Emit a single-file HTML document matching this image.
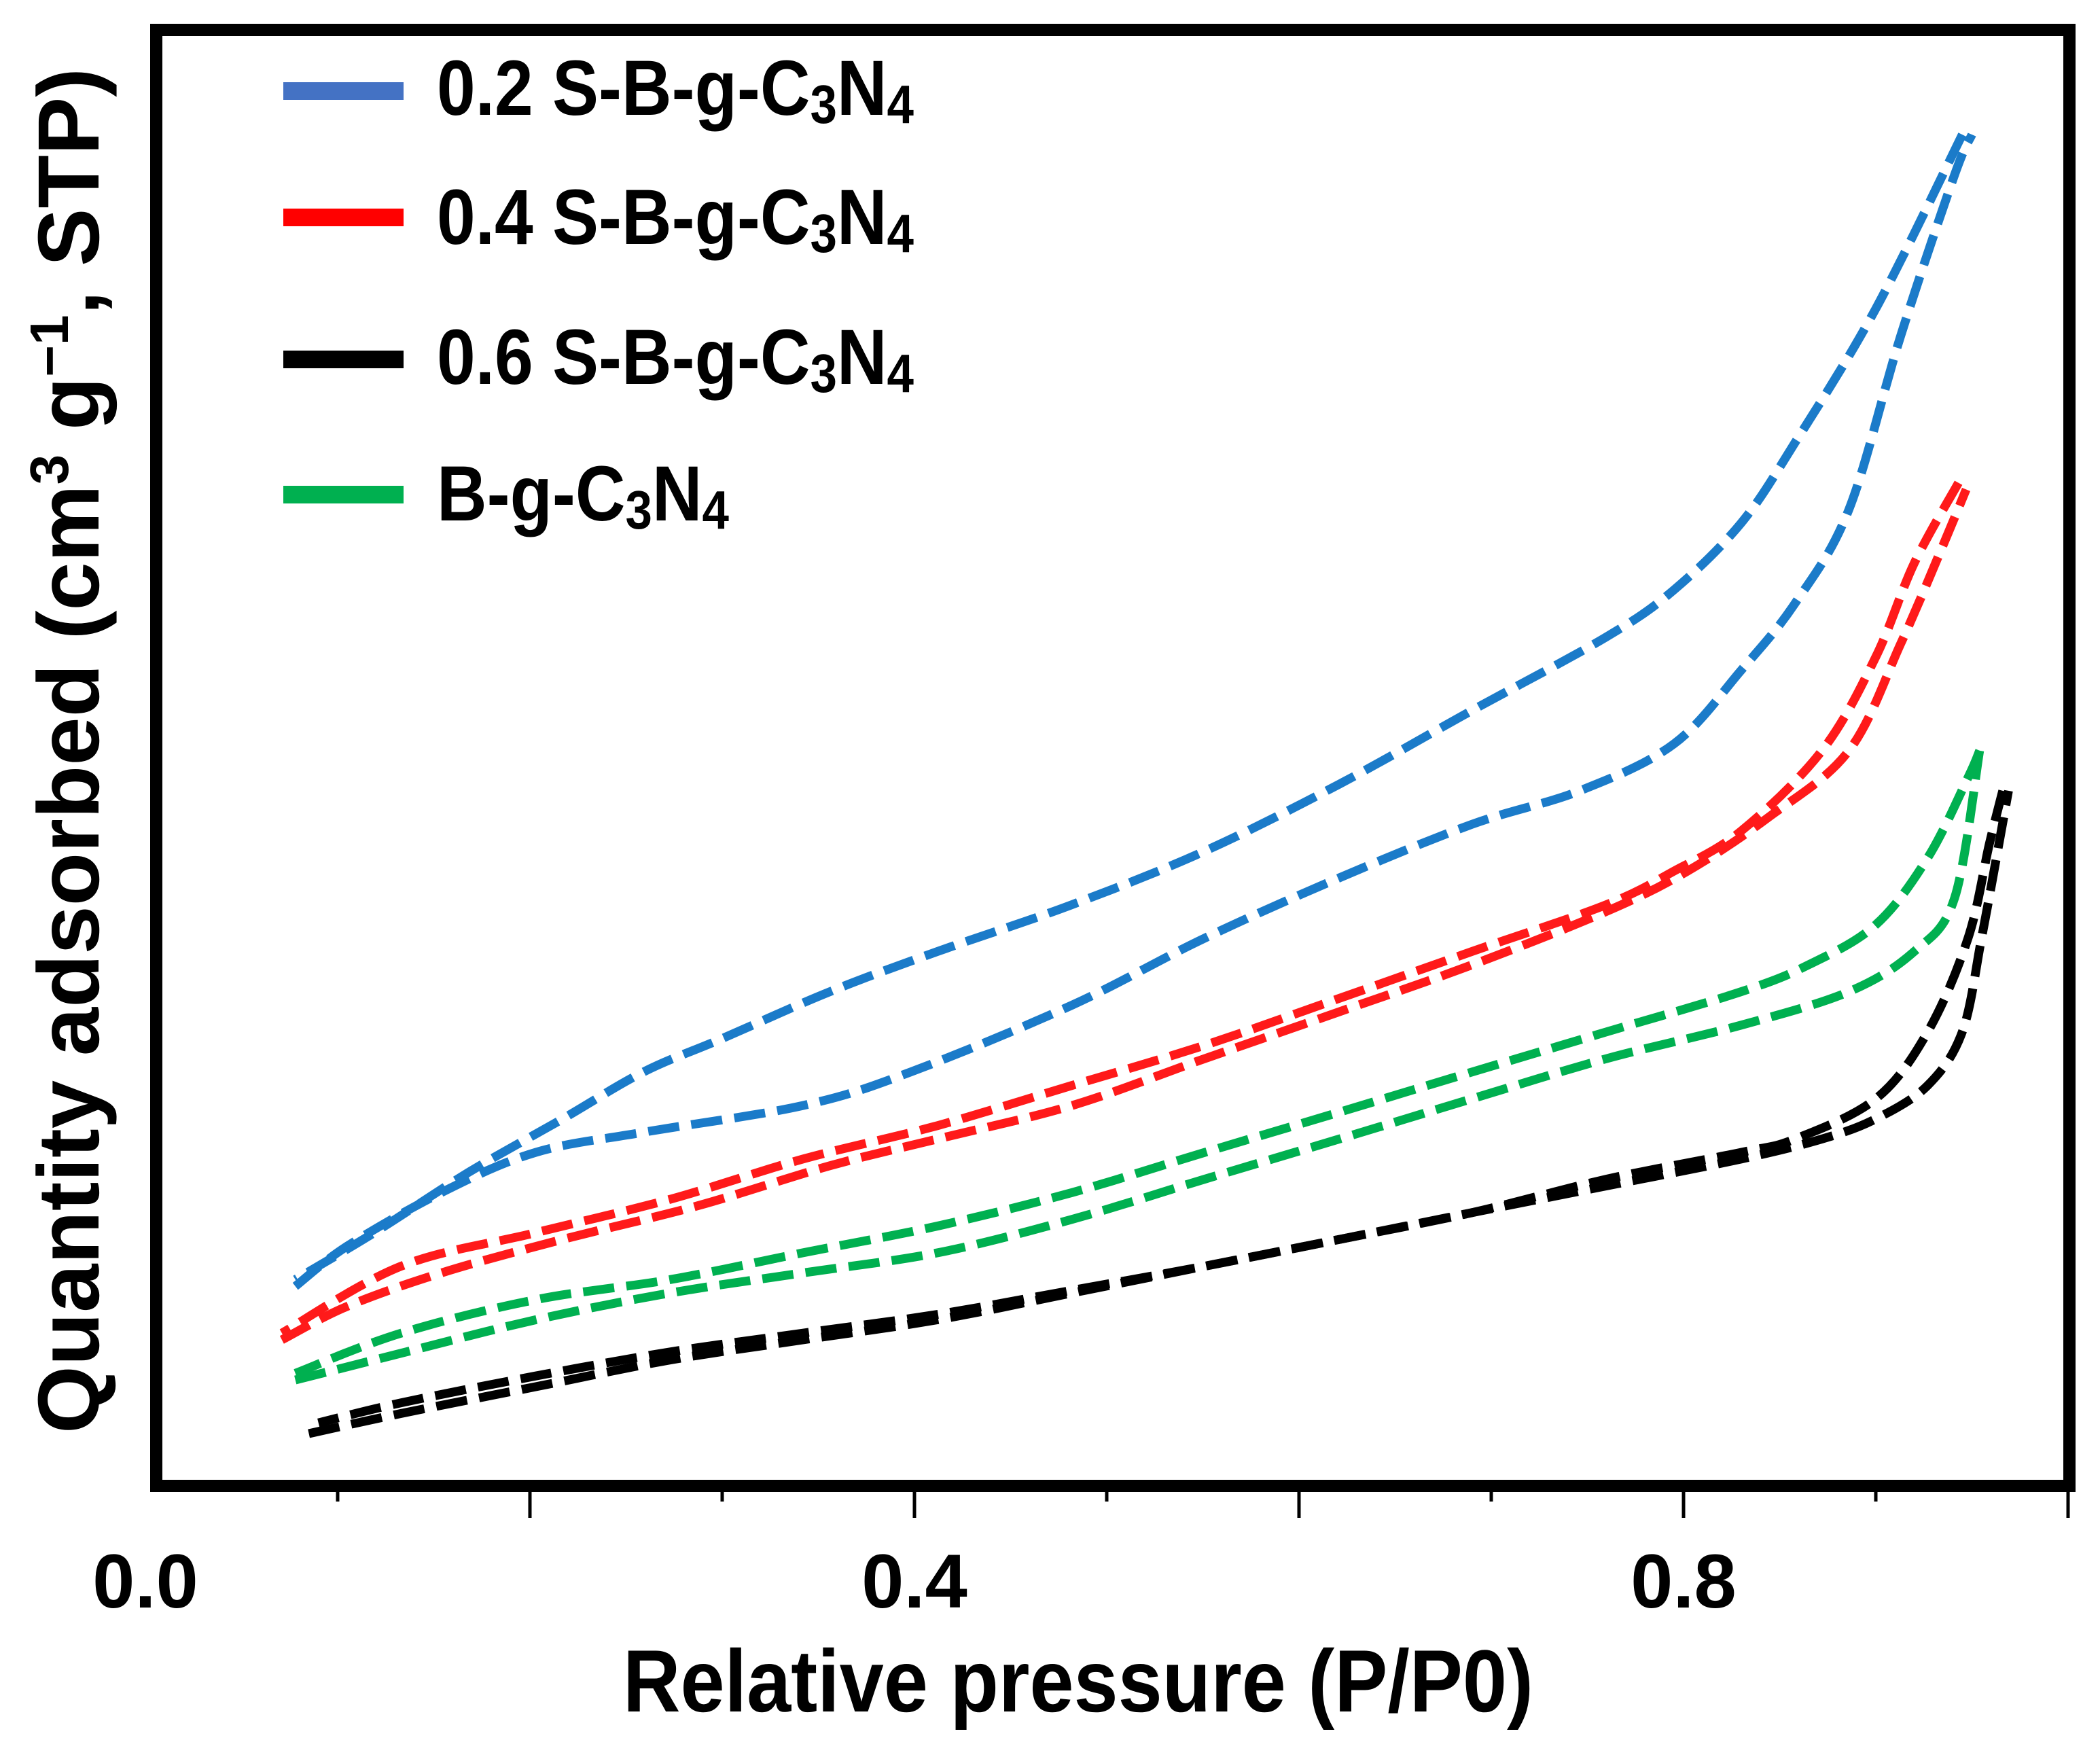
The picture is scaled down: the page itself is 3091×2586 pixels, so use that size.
<!DOCTYPE html>
<html><head><meta charset="utf-8"><style>html,body{margin:0;padding:0;background:#fff}svg{display:block}text{font-family:"Liberation Sans",Arial,sans-serif;font-weight:bold}</style></head>
<body>
<svg id="chart" width="3091" height="2586" viewBox="0 0 3091 2586" xmlns="http://www.w3.org/2000/svg">
<rect x="0" y="0" width="3091" height="2586" fill="#fff"/>
<g id="series"></g>
<rect x="230" y="44" width="2816" height="2143" fill="none" stroke="#000" stroke-width="18"/>
<g id="ticks"></g>
<text x="917" y="2519" font-size="130" textLength="1340" lengthAdjust="spacingAndGlyphs">Relative pressure (P/P0)</text>
<text transform="translate(145,2110) rotate(-90)" x="0" y="0" font-size="128" textLength="2010" lengthAdjust="spacingAndGlyphs">Quantity adsorbed (cm<tspan font-size="80" dy="-45">3</tspan><tspan dy="45"> g</tspan><tspan font-size="80" dy="-45">−1</tspan><tspan dy="45">, STP)</tspan></text>
<g>
 <line x1="417" y1="134" x2="594" y2="134" stroke="#4472c4" stroke-width="26"/>
 <text x="643" y="169" font-size="115" textLength="702" lengthAdjust="spacingAndGlyphs">0.2 S-B-g-C<tspan font-size="80" dy="12">3</tspan><tspan dy="-12">N</tspan><tspan font-size="80" dy="12">4</tspan></text>
 <line x1="417" y1="320" x2="594" y2="320" stroke="#ff0000" stroke-width="26"/>
 <text x="643" y="359" font-size="115" textLength="702" lengthAdjust="spacingAndGlyphs">0.4 S-B-g-C<tspan font-size="80" dy="12">3</tspan><tspan dy="-12">N</tspan><tspan font-size="80" dy="12">4</tspan></text>
 <line x1="417" y1="529" x2="594" y2="529" stroke="#000" stroke-width="26"/>
 <text x="643" y="565" font-size="115" textLength="702" lengthAdjust="spacingAndGlyphs">0.6 S-B-g-C<tspan font-size="80" dy="12">3</tspan><tspan dy="-12">N</tspan><tspan font-size="80" dy="12">4</tspan></text>
 <line x1="417" y1="728" x2="594" y2="728" stroke="#00b050" stroke-width="26"/>
 <text x="643" y="766" font-size="115" textLength="430" lengthAdjust="spacingAndGlyphs">B-g-C<tspan font-size="80" dy="12">3</tspan><tspan dy="-12">N</tspan><tspan font-size="80" dy="12">4</tspan></text>
</g>
</svg>
<script>
const majorTicks=[0.2,0.4,0.6,0.8,1.0];
const minorTicks=[0.1,0.3,0.5,0.7,0.9];
const tickLabels=["0.0","0.4","0.8"];
const tickLabelValues=[0.0,0.4,0.8];
const blueAdsX=[0.078,0.105,0.154,0.203,0.259,0.342,0.398,0.482,0.551,0.621,0.690,0.746,0.795,0.830,0.858,0.886,0.913,0.941,0.950];
const blueAdsY=[144,174,214,244,259,279,304,354,404,449,489,514,549,604,654,724,854,974,1004];
const blueDesX=[0.945,0.900,0.858,0.830,0.795,0.760,0.690,0.621,0.551,0.482,0.412,0.356,0.300,0.259,0.217,0.168,0.119,0.078];
const blueDesY=[1004,874,774,714,664,629,574,519,469,429,394,364,329,304,269,229,184,149];
const redAdsX=[0.071,0.105,0.154,0.217,0.287,0.356,0.412,0.482,0.551,0.621,0.690,0.760,0.802,0.844,0.886,0.913,0.934,0.947];
const redAdsY=[104,129,154,179,204,234,254,279,314,349,384,424,454,494,544,624,694,739];
const redDesX=[0.943,0.920,0.900,0.872,0.830,0.795,0.760,0.690,0.621,0.551,0.482,0.412,0.342,0.273,0.203,0.133,0.071];
const redDesY=[744,684,614,544,484,454,429,394,359,324,294,264,239,209,184,159,109];
const greenAdsX=[0.078,0.133,0.203,0.273,0.342,0.412,0.482,0.551,0.621,0.690,0.760,0.830,0.886,0.920,0.941,0.954];
const greenAdsY=[74,94,119,139,154,169,194,224,254,284,314,339,364,394,434,544];
const greenDesX=[0.954,0.948,0.927,0.900,0.865,0.830,0.760,0.690,0.621,0.551,0.482,0.412,0.342,0.273,0.203,0.133,0.078];
const greenDesY=[544,524,464,414,384,364,334,304,274,244,214,189,169,149,134,109,79];
const blackAdsX=[0.085,0.133,0.203,0.273,0.342,0.412,0.482,0.551,0.621,0.690,0.760,0.830,0.872,0.900,0.927,0.945,0.955,0.964,0.969];
const blackAdsY=[34,49,69,89,104,119,139,159,179,199,219,239,254,269,294,334,404,474,514];
const blackDesX=[0.966,0.959,0.948,0.927,0.900,0.858,0.830,0.760,0.690,0.621,0.551,0.482,0.412,0.342,0.273,0.203,0.133,0.090];
const blackDesY=[514,474,404,334,284,254,244,224,199,179,159,141,123,109,95,77,57,42];

const X0=214,XS=2830;
function xs(p){return X0+p*XS;}
const Y0=2177,YK=1.971;
function ys(v){return Y0-v*YK;}
const NS="http://www.w3.org/2000/svg";
function pathD(X,Y){
  const pts=X.map((x,i)=>[xs(x),ys(Y[i])]);
  let d="M"+pts[0][0].toFixed(1)+","+pts[0][1].toFixed(1);
  for(let i=0;i<pts.length-1;i++){
    const p0=pts[Math.max(0,i-1)],p1=pts[i],p2=pts[i+1],p3=pts[Math.min(pts.length-1,i+2)];
    const c1=[p1[0]+(p2[0]-p0[0])/6,p1[1]+(p2[1]-p0[1])/6];
    const c2=[p2[0]-(p3[0]-p1[0])/6,p2[1]-(p3[1]-p1[1])/6];
    d+=" C"+c1[0].toFixed(1)+","+c1[1].toFixed(1)+" "+c2[0].toFixed(1)+","+c2[1].toFixed(1)+" "+p2[0].toFixed(1)+","+p2[1].toFixed(1);
  }
  return d;
}
const g=document.getElementById('series');
function addCurve(X,Y,color,name){
  const p=document.createElementNS(NS,'path');
  p.setAttribute('d',pathD(X,Y));
  p.setAttribute('fill','none');
  p.setAttribute('stroke',color);
  p.setAttribute('stroke-width','13');
  p.setAttribute('stroke-dasharray','46 18');
  p.setAttribute('stroke-linejoin','round');
  
  
  g.appendChild(p);
}
addCurve(blackAdsX,blackAdsY,'#000','curve-0.6-adsorption');
addCurve(blackDesX,blackDesY,'#000','curve-0.6-desorption');
addCurve(greenAdsX,greenAdsY,'#00b050','curve-bgcn-adsorption');
addCurve(greenDesX,greenDesY,'#00b050','curve-bgcn-desorption');
addCurve(redAdsX,redAdsY,'#ff1a1a','curve-0.4-adsorption');
addCurve(redDesX,redDesY,'#ff1a1a','curve-0.4-desorption');
addCurve(blueAdsX,blueAdsY,'#1b7bc9','curve-0.2-adsorption');
addCurve(blueDesX,blueDesY,'#1b7bc9','curve-0.2-desorption');

const tg=document.getElementById('ticks');
function tick(v,len,name){
  const l=document.createElementNS(NS,'line');
  l.setAttribute('x1',xs(v));l.setAttribute('x2',xs(v));
  l.setAttribute('y1',2196);l.setAttribute('y2',2196+len);
  l.setAttribute('stroke','#000');l.setAttribute('stroke-width','5');
  
  
  tg.appendChild(l);
}
majorTicks.forEach(v=>tick(v,38,'x-major-tick'));
minorTicks.forEach(v=>tick(v,14,'x-minor-tick'));
tickLabels.forEach((t,i)=>{
  const e=document.createElementNS(NS,'text');
  e.setAttribute('x',xs(tickLabelValues[i]));
  e.setAttribute('y',2366);
  e.setAttribute('font-size','112');
  e.setAttribute('text-anchor','middle');
  e.textContent=t;
  
  
  tg.appendChild(e);
});
</script>
</body></html>
